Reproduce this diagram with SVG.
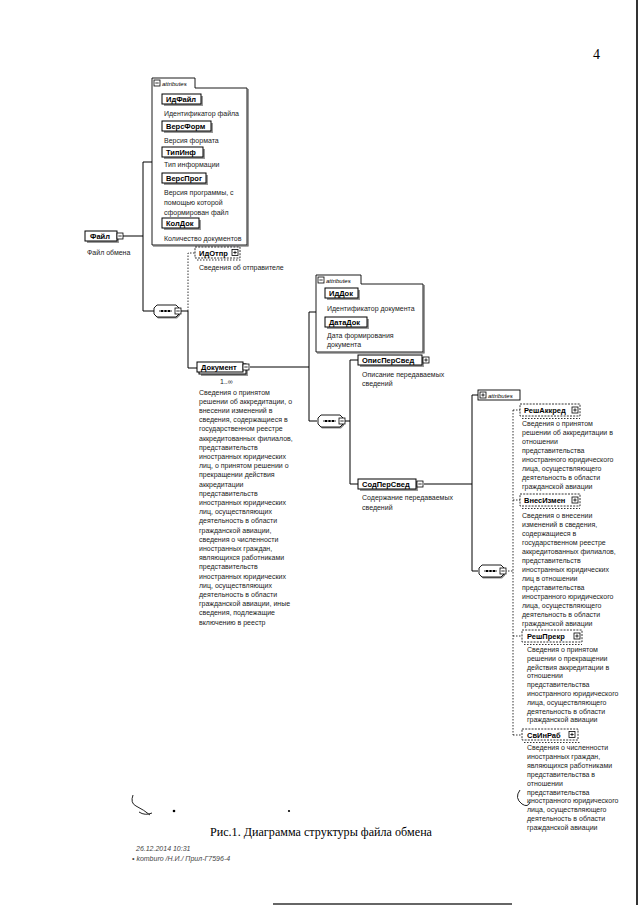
<svg xmlns="http://www.w3.org/2000/svg" xmlns:xlink="http://www.w3.org/1999/xlink" width="640" height="905" viewBox="0 0 640 905">
<style>
text{font-family:"Liberation Sans",Arial,sans-serif}
.d{font-size:7px;fill:#222}
.n{font-size:7.5px;font-weight:bold;fill:#000}
.a{font-size:6px;font-style:italic;fill:#000}
.box{fill:#fff;stroke:#000;stroke-width:1}
.sh{fill:#999;stroke:none}
.db{fill:#fff;stroke:#000;stroke-width:0.8;stroke-dasharray:2,1.2}
.ln{stroke:#000;stroke-width:1;fill:none}
.dl{stroke:#000;stroke-width:0.8;fill:none;stroke-dasharray:1.5,1.5}
.fr{fill:#fff;stroke:#000;stroke-width:0.9}
</style>
<defs>
<g id="im"><rect x="0" y="0" width="6" height="6" fill="#fff" stroke="#000" stroke-width="0.8"/><path d="M1.3 3H4.7" stroke="#000" stroke-width="0.8"/></g>
<g id="ip"><rect x="0" y="0" width="6" height="6" fill="#fff" stroke="#000" stroke-width="0.8"/><path d="M1.3 3H4.7M3 1.3V4.7" stroke="#000" stroke-width="0.8"/></g>
<g id="seq">
<path d="M4,1.5 H23 L26,4.5 V10.5 L23,13.5 H4 L1,10.5 V4.5 Z" fill="#888"/>
<path d="M3,0 H22 L25,3 V9 L22,12 H3 L0,9 V3 Z" fill="#fff" stroke="#000" stroke-width="0.9"/>
<path d="M5,6 H18" stroke="#000" stroke-width="0.8"/>
<rect x="7" y="5" width="2" height="2" fill="#000"/><rect x="10.5" y="5" width="2" height="2" fill="#000"/><rect x="14" y="5" width="2" height="2" fill="#000"/>
<use xlink:href="#im" x="21" y="3"/>
</g>
</defs>
<rect width="640" height="905" fill="#fff"/>

<!-- connectors -->
<g id="connectors">
<path class="ln" d="M123,236 H143 M143,162 V311 M143,162 H152 M143,311 H154"/>
<path class="ln" d="M180,311 H188 V368 H197"/>
<path class="dl" d="M188,311 V253 H195"/>
<path class="ln" d="M250,367 H309 M309,312 V421 M309,312 H316 M309,421 H317"/>
<path class="ln" d="M344,421 H350 M350,360 V484 M350,360 H358 M350,484 H358"/>
<path class="ln" d="M424,484 H472 M472,395 V571 M472,395 H478 M472,571 H478"/>
<path class="dl" d="M505,571 H513 M513,410 V735 M513,410 H520 M513,500 H520 M513,636 H522 M513,735 H522"/>
</g>

<!-- Файл -->
<g id="n-fail">
<rect class="sh" x="87" y="233" width="32" height="10"/>
<rect class="box" x="85" y="231" width="32" height="10"/>
<text class="n" x="90" y="239">Файл</text>
<use xlink:href="#im" x="117" y="233"/>
<text class="d" x="87" y="255">Файл обмена</text>
</g>

<!-- attributes of Файл -->
<g id="n-attr1">
<path class="fr" d="M152,245 V78 H195 V88 H247 V245 Z"/>
<path d="M248,89 V246 H153" stroke="#555" stroke-width="1.2" fill="none"/>
<use xlink:href="#im" x="154" y="80"/>
<text class="a" x="162" y="86">attributes</text>
<g id="n-idfail"><rect class="sh" x="164" y="96" width="39" height="10"/><rect class="box" x="162" y="94" width="39" height="10"/><text class="n" x="166" y="102">ИдФайл</text><text class="d" x="164" y="116">Идентификатор файла</text></g>
<g id="n-versform"><rect class="sh" x="164" y="123" width="49" height="10"/><rect class="box" x="162" y="121" width="49" height="10"/><text class="n" x="166" y="129">ВерсФорм</text><text class="d" x="164" y="143">Версия формата</text></g>
<g id="n-tipinf"><rect class="sh" x="164" y="149" width="41" height="10"/><rect class="box" x="162" y="147" width="41" height="10"/><text class="n" x="166" y="155">ТипИнф</text><text class="d" x="164" y="167">Тип информации</text></g>
<g id="n-versprog"><rect class="sh" x="164" y="175" width="44" height="10"/><rect class="box" x="162" y="173" width="44" height="10"/><text class="n" x="166" y="181">ВерсПрог</text>
<text class="d" x="164" y="195">Версия программы, с</text><text class="d" x="164" y="205">помощью которой</text><text class="d" x="164" y="215">сформирован файл</text></g>
<g id="n-koldok"><rect class="sh" x="164" y="220" width="37" height="10"/><rect class="box" x="162" y="218" width="37" height="10"/><text class="n" x="166" y="226">КолДок</text><text class="d" x="164" y="241">Количество документов</text></g>
</g>

<!-- sequence 1 -->
<g id="n-seq1"><use xlink:href="#seq" x="154" y="305"/></g>

<!-- ИдОтпр -->
<g id="n-idotpr">
<path class="dl" d="M197,260 H241"/>
<rect class="db" x="195" y="247" width="45" height="11"/>
<text class="n" x="199" y="255.5">ИдОтпр</text>
<use xlink:href="#ip" x="232" y="249.5"/>
<text class="d" x="199" y="270">Сведения об отправителе</text>
</g>

<!-- Документ -->
<g id="n-dokument">
<rect class="sh" x="201" y="366" width="47" height="10"/>
<rect class="box" x="199" y="364" width="47" height="10"/>
<rect class="box" x="197" y="362" width="46" height="10"/>
<text class="n" x="201" y="370">Документ</text>
<use xlink:href="#im" x="243" y="364"/>
<text class="d" x="220" y="384">1..∞</text>
<g class="d">
<text x="199" y="394.5">Сведения о принятом</text>
<text x="199" y="403.7">решении об аккредитации, о</text>
<text x="199" y="412.9">внесении изменений в</text>
<text x="199" y="422.1">сведения, содержащиеся в</text>
<text x="199" y="431.3">государственном реестре</text>
<text x="199" y="440.5">аккредитованных филиалов,</text>
<text x="199" y="449.7">представительств</text>
<text x="199" y="458.9">иностранных юридических</text>
<text x="199" y="468.1">лиц, о принятом решении о</text>
<text x="199" y="477.3">прекращении действия</text>
<text x="199" y="486.5">аккредитации</text>
<text x="199" y="495.7">представительств</text>
<text x="199" y="504.9">иностранных юридических</text>
<text x="199" y="514.1">лиц, осуществляющих</text>
<text x="199" y="523.3">деятельность в области</text>
<text x="199" y="532.5">гражданской авиации,</text>
<text x="199" y="541.7">сведения о численности</text>
<text x="199" y="550.9">иностранных граждан,</text>
<text x="199" y="560.1">являющихся работниками</text>
<text x="199" y="569.3">представительств</text>
<text x="199" y="578.5">иностранных юридических</text>
<text x="199" y="587.7">лиц, осуществляющих</text>
<text x="199" y="596.9">деятельность в области</text>
<text x="199" y="606.1">гражданской авиации, иные</text>
<text x="199" y="615.3">сведения, подлежащие</text>
<text x="199" y="624.5">включению в реестр</text>
</g>
</g>

<!-- attributes of Документ -->
<g id="n-attr2">
<path class="fr" d="M316,352 V275 H361 V284 H423 V352 Z"/>
<path d="M424,285 V353 H317" stroke="#555" stroke-width="1.2" fill="none"/>
<use xlink:href="#im" x="318" y="277"/>
<text class="a" x="326" y="283">attributes</text>
<g id="n-iddok"><rect class="sh" x="327" y="290" width="33" height="10"/><rect class="box" x="325" y="288" width="33" height="10"/><text class="n" x="329" y="296">ИдДок</text><text class="d" x="327" y="311">Идентификатор документа</text></g>
<g id="n-datadok"><rect class="sh" x="327" y="319" width="42" height="10"/><rect class="box" x="325" y="317" width="42" height="10"/><text class="n" x="329" y="325">ДатаДок</text><text class="d" x="327" y="338">Дата формирования</text><text class="d" x="327" y="347">документа</text></g>
</g>

<!-- sequence 2 -->
<g id="n-seq2"><use xlink:href="#seq" x="318" y="415"/></g>

<!-- ОписПерСвед -->
<g id="n-opispersved">
<rect class="sh" x="360" y="357" width="64" height="10"/>
<rect class="box" x="358" y="355" width="64" height="10"/>
<text class="n" x="362" y="363">ОписПерСвед</text>
<use xlink:href="#ip" x="423" y="357"/>
<text class="d" x="362" y="377">Описание передаваемых</text>
<text class="d" x="362" y="386">сведений</text>
</g>

<!-- СодПерСвед -->
<g id="n-sodpersved">
<rect class="sh" x="360" y="481" width="58" height="10"/>
<rect class="box" x="358" y="479" width="58" height="10"/>
<text class="n" x="362" y="487">СодПерСвед</text>
<use xlink:href="#im" x="417" y="481"/>
<text class="d" x="362" y="500">Содержание передаваемых</text>
<text class="d" x="362" y="510">сведений</text>
</g>

<!-- attributes (collapsed) -->
<g id="n-attr3">
<rect class="fr" x="478" y="390" width="42" height="10"/>
<use xlink:href="#ip" x="480" y="392"/>
<text class="a" x="488" y="397.5">attributes</text>
</g>

<!-- sequence 3 -->
<g id="n-seq3"><use xlink:href="#seq" x="479" y="565"/></g>

<!-- РешАккред -->
<g id="n-reshakkred">
<path class="dl" d="M522,418.5 H580"/>
<rect class="db" x="520" y="404" width="60" height="12"/>
<text class="n" x="524" y="413">РешАккред</text>
<use xlink:href="#ip" x="572" y="407"/>
<g class="d">
<text x="522" y="426">Сведения о принятом</text>
<text x="522" y="435">решении об аккредитации в</text>
<text x="522" y="444">отношении</text>
<text x="522" y="453">представительства</text>
<text x="522" y="462">иностранного юридического</text>
<text x="522" y="471">лица, осуществляющего</text>
<text x="522" y="480">деятельность в области</text>
<text x="522" y="489">гражданской авиации</text>
</g>
</g>

<!-- ВнесИзмен -->
<g id="n-vnesizmen">
<path class="dl" d="M522,508.5 H580"/>
<rect class="db" x="520" y="494" width="60" height="12"/>
<text class="n" x="524" y="503">ВнесИзмен</text>
<use xlink:href="#ip" x="572" y="497"/>
<g class="d">
<text x="522" y="518">Сведения о внесении</text>
<text x="522" y="527">изменений в сведения,</text>
<text x="522" y="536">содержащиеся в</text>
<text x="522" y="545">государственном реестре</text>
<text x="522" y="554">аккредитованных филиалов,</text>
<text x="522" y="563">представительств</text>
<text x="522" y="572">иностранных юридических</text>
<text x="522" y="581">лиц в отношении</text>
<text x="522" y="590">представительства</text>
<text x="522" y="599">иностранного юридического</text>
<text x="522" y="608">лица, осуществляющего</text>
<text x="522" y="617">деятельность в области</text>
<text x="522" y="626">гражданской авиации</text>
</g>
</g>

<!-- РешПрекр -->
<g id="n-reshprekr">
<path class="dl" d="M524,644.5 H582"/>
<rect class="db" x="522" y="630" width="60" height="12"/>
<text class="n" x="527" y="639">РешПрекр</text>
<use xlink:href="#ip" x="574" y="633"/>
<g class="d">
<text x="527" y="652">Сведения о принятом</text>
<text x="527" y="660.8">решении о прекращении</text>
<text x="527" y="669.6">действия аккредитации в</text>
<text x="527" y="678.4">отношении</text>
<text x="527" y="687.2">представительства</text>
<text x="527" y="696">иностранного юридического</text>
<text x="527" y="704.8">лица, осуществляющего</text>
<text x="527" y="713.6">деятельность в области</text>
<text x="527" y="722.4">гражданской авиации</text>
</g>
</g>

<!-- СвИнРаб -->
<g id="n-svinrab">
<path class="dl" d="M524,742.5 H580"/>
<rect class="db" x="522" y="729" width="56" height="11"/>
<text class="n" x="527" y="737.5">СвИнРаб</text>
<use xlink:href="#ip" x="569" y="731.5"/>
<g class="d">
<text x="527" y="750">Сведения о численности</text>
<text x="527" y="758.9">иностранных граждан,</text>
<text x="527" y="767.8">являющихся работниками</text>
<text x="527" y="776.7">представительства в</text>
<text x="527" y="785.6">отношении</text>
<text x="527" y="794.5">представительства</text>
<text x="527" y="803.4">иностранного юридического</text>
<text x="527" y="812.3">лица, осуществляющего</text>
<text x="527" y="821.2">деятельность в области</text>
<text x="527" y="830.1">гражданской авиации</text>
</g>
</g>

<!-- page marks -->
<text x="593" y="59" style="font-family:'Liberation Serif',serif;font-size:14px;fill:#000">4</text>
<text x="210" y="836" textLength="222" lengthAdjust="spacingAndGlyphs" style="font-family:'Liberation Serif',serif;font-size:13.5px;fill:#000">Рис.1. Диаграмма структуры файла обмена</text>
<text x="136" y="851" style="font-size:7px;font-style:italic;fill:#444">26.12.2014 10:31</text>
<text x="132" y="861" style="font-size:7px;font-style:italic;fill:#444">• komburo /Н.И./ Прил-Г7596-4</text>
<path d="M133,795 Q130,803 136,806 Q144,810 150,815 M139,812 Q145,816 152,813" stroke="#222" stroke-width="1" fill="none"/>
<path d="M520,790 Q514,798 522,804 Q528,808 530,802" stroke="#222" stroke-width="1" fill="none"/>
<circle cx="174" cy="811" r="1.3" fill="#000"/>
<circle cx="289" cy="811" r="1.1" fill="#000"/>
<rect x="636" y="0" width="2" height="905" fill="#333"/>
<path d="M273,904 H512" stroke="#333" stroke-width="1.5"/>
</svg>
